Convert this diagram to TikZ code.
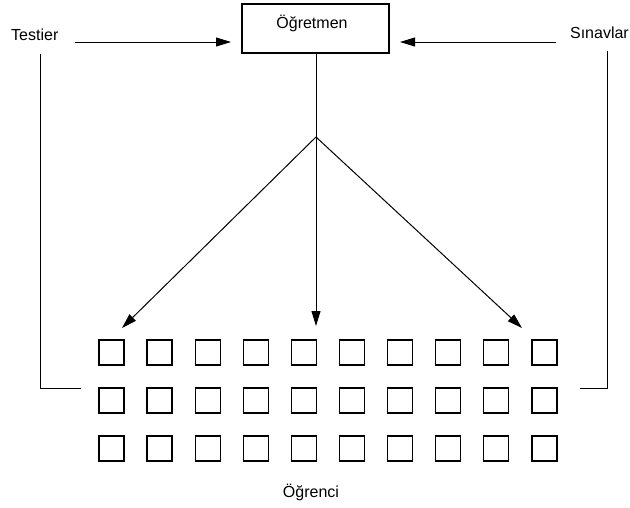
\documentclass[tikz,border=0pt]{standalone}
\usepackage{fontspec}
\setmainfont{Liberation Sans}
\usetikzlibrary{arrows.meta}
\begin{document}
\begin{tikzpicture}[x=1pt,y=-1pt,
  lbl/.style={inner sep=0pt, font=\fontsize{16}{19}\selectfont},
  cell/.style={draw, line width=1.3pt, minimum size=25pt, inner sep=0pt},
  line/.style={line width=1pt},
  arr/.style={line width=1pt, -{Triangle[length=15pt,width=9pt]}},
  teacherbox/.style={draw, line width=1.2pt, minimum width=147pt, minimum height=49pt, inner sep=0pt}]
\useasboundingbox (0,0) rectangle (630,507);
\node[teacherbox] (box) at (315.5,28.5) {};
\node[lbl, anchor=base] (teacher) at (312,28) {Öğretmen};
\node[lbl, anchor=base west] (testier) at (11,40.5) {Testier};
\node[lbl, anchor=base east] (sinavlar) at (629,38.5) {Sınavlar};
\node[lbl, anchor=base] (student) at (311,497) {Öğrenci};
\foreach \i in {0,...,9}{
  \foreach \j/\y in {1/352.5,2/400.5,3/448.5}{
    \node[cell] (s\j-\i) at ({111.5+48.1*\i},\y) {};
  }
}
\coordinate (tA) at (75,42);
\coordinate (tB) at (231,42);
\coordinate (sA) at (556,42);
\coordinate (sB) at (400,42);
\draw[arr] (tA) -- (tB);
\draw[arr] (sA) -- (sB);
\coordinate (lt) at (40,54);
\coordinate (lc) at (40,388);
\coordinate (le) at (81,388);
\draw[line] (lt) -- (lc) -- (le);
\coordinate (rt) at (607,51);
\coordinate (rc) at (607,388);
\coordinate (re) at (580,388);
\draw[line] (rt) -- (rc) -- (re);
\coordinate (fork) at (316,137);
\coordinate (aL) at (122,328);
\coordinate (aM) at (316,326);
\coordinate (aR) at (522,328);
\draw[line] (box.south -| fork) -- (fork);
\draw[arr] (fork) -- (aL);
\draw[arr] (fork) -- (aM);
\draw[arr] (fork) -- (aR);
\end{tikzpicture}
\end{document}
